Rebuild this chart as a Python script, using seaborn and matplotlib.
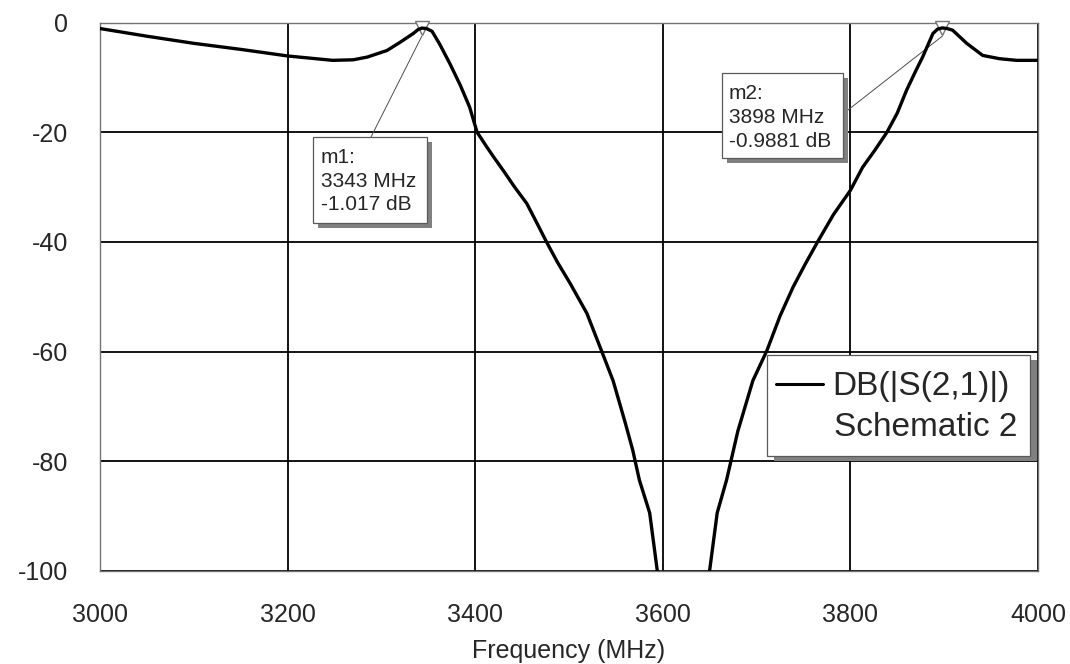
import matplotlib
matplotlib.use("Agg")
import matplotlib.pyplot as plt
import seaborn as sns
import pandas as pd
from matplotlib.patches import Rectangle
from matplotlib.lines import Line2D

# ---- data ----
freq_mhz = [3000, 3050, 3100, 3150, 3200, 3230, 3248, 3270, 3285, 3306, 3320, 3334,
            3339, 3343, 3348, 3354, 3362, 3373, 3384, 3394, 3402, 3412, 3420, 3430,
            3442, 3455, 3465, 3476, 3488, 3501, 3519, 3535, 3547, 3560, 3568, 3575,
            3586, 3594, 3600, 3622, 3645, 3650, 3658, 3668, 3680, 3696, 3711, 3725,
            3739, 3752, 3765, 3782, 3800, 3813, 3826, 3839, 3850, 3860, 3870, 3877,
            3888, 3893, 3898, 3903, 3909, 3924, 3941, 3959, 3977, 4000]
s21_db = [-1.1, -2.5, -3.8, -4.9, -6.1, -6.6, -6.9, -6.8, -6.3, -5.1, -3.6, -2.0,
          -1.3, -1.017, -1.1, -1.6, -3.9, -7.5, -11.4, -15.4, -20.0, -22.6, -24.6, -27.0,
          -30.0, -33.0, -36.3, -40.0, -43.8, -47.5, -53.0, -60.0, -65.3, -73.0, -78.0, -83.4,
          -89.4, -99.8, -108.0, -130.0, -108.0, -99.8, -89.4, -83.4, -74.5, -65.3, -59.8, -53.5,
          -48.2, -44.0, -40.0, -35.0, -30.6, -26.4, -23.3, -20.0, -16.5, -12.3, -8.7, -6.3,
          -2.0, -1.2, -0.9881, -1.1, -1.4, -3.8, -6.0, -6.6, -6.9, -6.9]

marker_names = ["m1", "m2"]
marker_freq = [3343, 3898]
marker_db = [-1.017, -0.9881]
marker_db_text = ["-1.017", "-0.9881"]

x_ticks = [3000, 3200, 3400, 3600, 3800, 4000]
y_ticks = [0, -20, -40, -60, -80, -100]
series_label = "DB(|S(2,1)|)"
series_sub = "Schematic 2"
x_label = "Frequency (MHz)"

# ---- style ----
sns.set_style("white")
plt.rcParams['font.family'] = ['Liberation Sans', 'DejaVu Sans']
plt.rcParams['axes.unicode_minus'] = False

W, H = 1070, 664
fig = plt.figure(figsize=(W / 100, H / 100), dpi=100)
ax = fig.add_axes([100 / W, (H - 571) / H, 938 / W, (571 - 22.5) / H])

df = pd.DataFrame({"f": freq_mhz, "db": s21_db})
sns.lineplot(data=df, x="f", y="db", color="black", linewidth=2.4, ax=ax, zorder=5)

ax.set_xlim(3000, 4000)
ax.set_ylim(-100, 0)
ax.set_xticks(x_ticks)
ax.set_yticks(y_ticks)
ax.set_xticklabels([str(t) for t in x_ticks])
ax.set_yticklabels([str(t) for t in y_ticks])
ax.tick_params(axis='both', length=0, labelsize=18)
ax.tick_params(axis='x', pad=23)
ax.tick_params(axis='y', pad=23)
ax.set_xlabel(x_label, fontsize=18, labelpad=9)
ax.set_ylabel("")
ax.grid(True, color="black", linewidth=1.3)
ax.set_axisbelow(True)
for sp in ax.spines.values():
    sp.set_color("0.45")
    sp.set_linewidth(1.0)

# markers
ax.plot(marker_freq, marker_db, linestyle="none", marker="v", markersize=10,
        markerfacecolor="white", markeredgecolor="0.45", markeredgewidth=1.0,
        clip_on=False, zorder=4)


def fx(px):
    return px / W


def fy(py):
    return 1 - py / H


def box(x0, y0, x1, y1, shadow=(5, 5)):
    fig.patches.append(Rectangle((fx(x0 + shadow[0]), fy(y1 + shadow[1])),
                                 (x1 - x0) / W, (y1 - y0) / H,
                                 transform=fig.transFigure, facecolor="0.5",
                                 edgecolor="none", zorder=10))
    fig.patches.append(Rectangle((fx(x0), fy(y1)), (x1 - x0) / W, (y1 - y0) / H,
                                 transform=fig.transFigure, facecolor="white",
                                 edgecolor="0.35", linewidth=0.9, zorder=11))


# marker annotation boxes
ann_boxes = [(313, 137, 427, 223), (722, 73, 843, 158)]
ann_text_x = [321, 729]
ann_baselines = [(163, 187, 210), (99, 123, 147)]
ann_anchor = [(371, 137), (848, 110)]
for i in range(2):
    x0, y0, x1, y1 = ann_boxes[i]
    box(x0, y0, x1, y1)
    lines = [f"{marker_names[i]}:", f"{marker_freq[i]} MHz", f"{marker_db_text[i]} dB"]
    for ln, by in zip(lines, ann_baselines[i]):
        fig.text(fx(ann_text_x[i]), fy(by), ln, fontsize=15, ha="left", va="baseline",
                 zorder=12)
    ax.annotate("", xy=(marker_freq[i], marker_db[i] - 1.5), xycoords="data",
                xytext=(ann_anchor[i][0], H - ann_anchor[i][1]), textcoords="figure pixels",
                arrowprops=dict(arrowstyle="-", color="0.3", lw=0.7,
                                shrinkA=0, shrinkB=0), zorder=3)

# legend box
box(767, 355, 1030, 456, shadow=(7, 5))
fig.lines.append(Line2D([fx(776), fx(823)], [fy(384), fy(384)], transform=fig.transFigure,
                        color="black", linewidth=2.2, zorder=12))
fig.text(fx(832), fy(395), series_label, fontsize=24, ha="left", va="baseline", zorder=12)
fig.text(fx(834), fy(436), series_sub, fontsize=24, ha="left", va="baseline", zorder=12)

fig.savefig("out.png", dpi=100)
